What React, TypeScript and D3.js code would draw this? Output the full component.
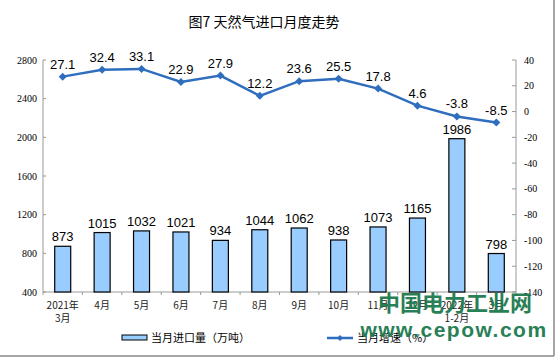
import React from "react";
import * as d3 from "d3";

const categories = ["2021年\n3月", "4月", "5月", "6月", "7月", "8月", "9月", "10月", "11月", "12月", "2022年\n1-2月", "3月"];
const imports = [873, 1015, 1032, 1021, 934, 1044, 1062, 938, 1073, 1165, 1986, 798];
const growth = [27.1, 32.4, 33.1, 22.9, 27.9, 12.2, 23.6, 25.5, 17.8, 4.6, -3.8, -8.5];
const leftTicks = [400, 800, 1200, 1600, 2000, 2400, 2800];
const rightTicks = [40, 20, 0, -20, -40, -60, -80, -100, -120, -140];

const W = 555, H = 358;
const L = 43, R = 516, T = 60, B = 292;
const CJK = "'Noto Sans CJK SC', sans-serif";
const SERIF = "'Liberation Serif', 'DejaVu Serif', serif";
const SANS = "'Liberation Sans', Arial, sans-serif";
const LINE = "#2f6ebf";

export default function App() {
  const xb = d3.scaleBand<number>().domain(d3.range(categories.length)).range([L, R]);
  const yL = d3.scaleLinear().domain([400, 2800]).range([B, T]);
  const yR = d3.scaleLinear().domain([-140, 40]).range([B, T]);
  const line = d3.line<number>().x((_, i) => xb(i)! + xb.bandwidth() / 2).y((d) => yR(d));
  const bw = 16;
  return (
    <svg width={W} height={H} style={{ position: "absolute", left: 0, top: 0 }}>
      <rect x={0} y={0} width={W} height={H} fill="#fff" />
      <line x1={0} x2={554} y1={356} y2={356} stroke="#888" strokeWidth={1.5} />
      <line x1={554} x2={554} y1={0} y2={356} stroke="#888" strokeWidth={1.5} />
      <text x={264} y={27} textAnchor="middle" fontFamily={CJK} fontSize={14} fill="#000">图7 天然气进口月度走势</text>
      {/* left axis */}
      <line x1={L} x2={L} y1={T} y2={B} stroke="#999" />
      {leftTicks.map((t) => (
        <g key={t}>
          <line x1={L} x2={L + 3} y1={yL(t)} y2={yL(t)} stroke="#999" />
          <text x={L - 6} y={yL(t) + 3.5} textAnchor="end" fontFamily={SERIF} fontSize={10}>{t}</text>
        </g>
      ))}
      {/* right axis */}
      <line x1={R} x2={R} y1={T} y2={B} stroke="#999" />
      {rightTicks.map((t) => (
        <g key={t}>
          <line x1={R - 4} x2={R} y1={yR(t)} y2={yR(t)} stroke="#999" />
          <text x={R + 8} y={yR(t) + 3.5} textAnchor="start" fontFamily={SERIF} fontSize={10}>{t}</text>
        </g>
      ))}
      {/* x axis */}
      <line x1={L} x2={R} y1={B} y2={B} stroke="#999" />
      {d3.range(categories.length + 1).map((i) => {
        const xx = L + i * xb.bandwidth();
        return <line key={i} x1={xx} x2={xx} y1={B} y2={B + 3} stroke="#999" />;
      })}
      {categories.map((c, i) => {
        const cx = xb(i)! + xb.bandwidth() / 2;
        return (
          <text key={i} x={cx} y={309} textAnchor="middle" fontFamily={CJK} fontSize={10} fill="#222">
            {c.split("\n").map((s, k) => (
              <tspan key={k} x={cx} dy={k === 0 ? 0 : 13}>{s}</tspan>
            ))}
          </text>
        );
      })}
      {/* bars */}
      {imports.map((v, i) => {
        const cx = xb(i)! + xb.bandwidth() / 2;
        return (
          <g key={i}>
            <rect x={cx - bw / 2} y={yL(v)} width={bw} height={B - yL(v)} fill="#99ccff" stroke="#000" strokeWidth={1.2} />
            <text x={cx} y={yL(v) - 5} textAnchor="middle" fontFamily={SANS} fontSize={13}>{v}</text>
          </g>
        );
      })}
      {/* line */}
      <path d={line(growth)!} fill="none" stroke={LINE} strokeWidth={2.5} />
      {growth.map((v, i) => {
        const cx = xb(i)! + xb.bandwidth() / 2;
        const cy = yR(v);
        return (
          <g key={i}>
            <path d={`M${cx},${cy - 4}L${cx + 4},${cy}L${cx},${cy + 4}L${cx - 4},${cy}Z`} fill={LINE} />
            <text x={cx} y={cy - 8} textAnchor="middle" fontFamily={SANS} fontSize={13}>{v}</text>
          </g>
        );
      })}
      {/* legend */}
      <rect x={122} y={335} width={25} height={5} fill="#99ccff" stroke="#000" strokeWidth={1} />
      <text x={151} y={342} fontFamily={CJK} fontSize={11}>当月进口量（万吨）</text>
      <line x1={327} x2={353} y1={338} y2={338} stroke={LINE} strokeWidth={2.5} />
      <path d="M340,335L343,338L340,341L337,338Z" fill={LINE} />
      <text x={357} y={342} fontFamily={CJK} fontSize={11}>当月增速（%）</text>
      {/* watermark */}
      <text x={455} y={311} textAnchor="middle" fontFamily={CJK} fontWeight="bold" fontSize={22} fill="#1d7a4e" opacity={0.95}>中国电力工业网</text>
      <text x={454} y={337} textAnchor="middle" fontFamily={SANS} fontWeight="bold" fontSize={21} letterSpacing={1.5} fill="#1d7a4e" opacity={0.95}>www.cepow.com</text>
    </svg>
  );
}
